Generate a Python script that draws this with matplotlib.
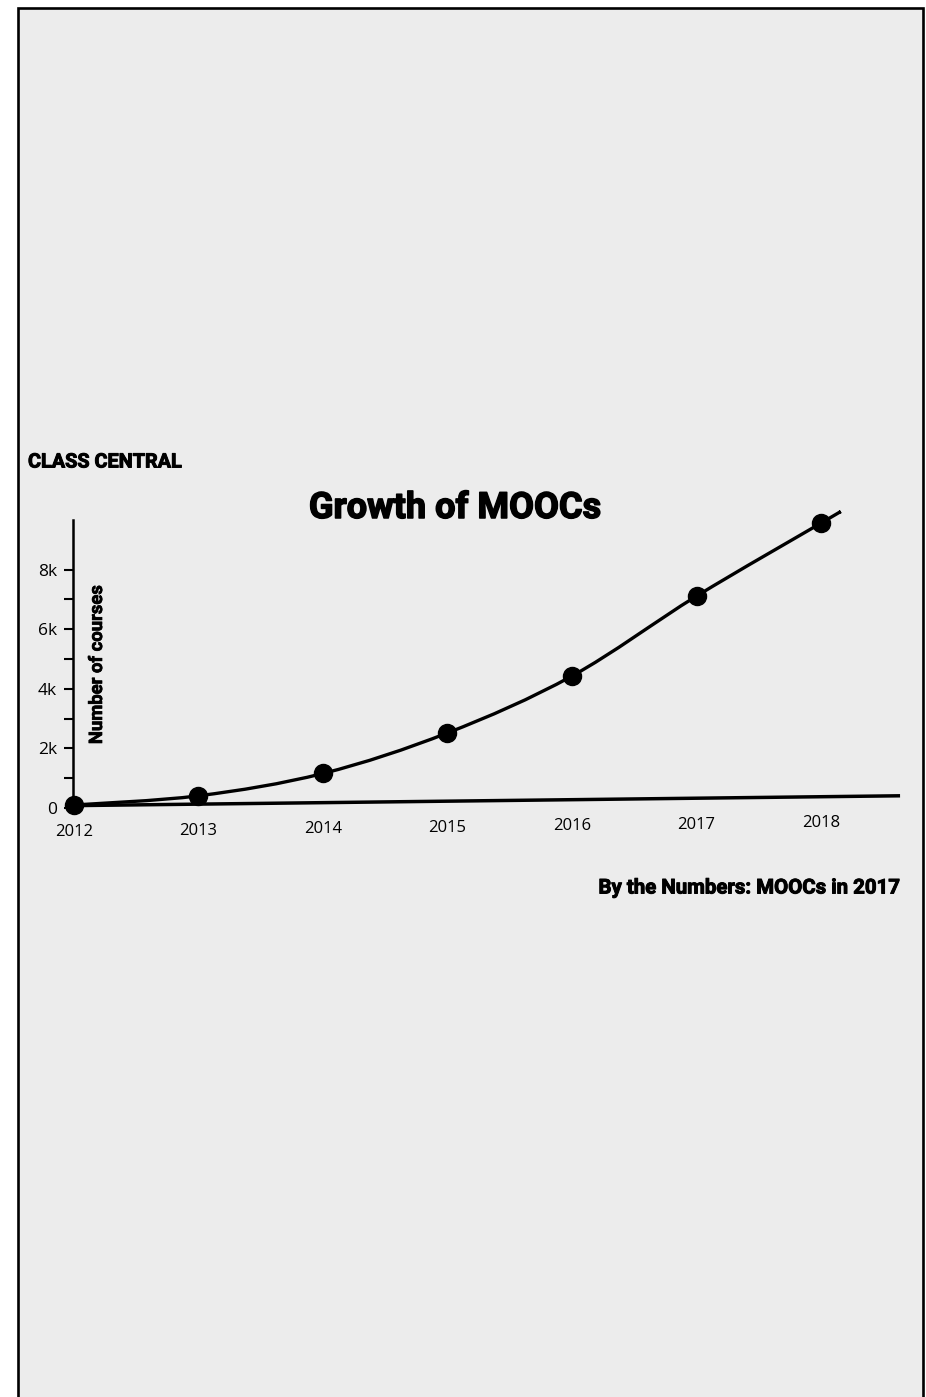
import numpy as np
import matplotlib
matplotlib.use("Agg")
import matplotlib.pyplot as plt
import matplotlib.patheffects as pe
from matplotlib.patches import Rectangle, PathPatch
from matplotlib.path import Path

# ---- data ----
years = [2012, 2013, 2014, 2015, 2016, 2017, 2018]
courses_k = [0.1, 0.41, 1.16, 2.52, 4.43, 7.11, 9.56]
ytick_major = [0, 2, 4, 6, 8]
ytick_labels = ["0", "2k", "4k", "6k", "8k"]
ytick_minor = [1, 3, 5, 7]
baseline_years = [2012, 2018.635]
baseline_vals = [0.08, 0.41]
title = "Growth of MOOCs"
brand = "CLASS CENTRAL"
subtitle = "By the Numbers: MOOCs in 2017"
ylabel = "Number of courses"

W, H = 926, 1397
fig = plt.figure(figsize=(W / 100, H / 100), dpi=100)
fig.patch.set_facecolor("white")

# grey panel with border
panel = Rectangle((18 / W, -0.05), (922.5 - 18) / W, 1.05 - 8 / H,
                  transform=fig.transFigure, facecolor="#ececec",
                  edgecolor="black", linewidth=1.9, zorder=-5)
fig.patches.append(panel)

# axes over the whole figure, mapping years/values to pixels
px_per_year = 124.5
px_per_k = 29.8
x0 = 2012 - 74 / px_per_year
x1 = x0 + W / px_per_year
zero_from_bottom = H - 808
y0 = -zero_from_bottom / px_per_k
y1 = (H - zero_from_bottom) / px_per_k

ax = fig.add_axes([0, 0, 1, 1])
ax.set_zorder(5)
ax.set_facecolor("none")
ax.set_xlim(x0, x1)
ax.set_ylim(y0, y1)
for s in ["top", "right", "bottom"]:
    ax.spines[s].set_visible(False)
ax.spines["left"].set_position(("data", 2012 - 1 / px_per_year))
ax.spines["left"].set_bounds(0.1, 9.66)
ax.spines["left"].set_linewidth(1.8)
ax.set_xticks([])
ax.set_yticks(ytick_major)
ax.set_yticklabels(ytick_labels)
ax.set_yticks(ytick_minor, minor=True)
ax.tick_params(axis="y", which="both", direction="out", length=6.5,
               width=1.5, pad=5, labelsize=12.5)
for lab in ax.get_yticklabels():
    lab.set_fontfamily("Open Sans")

# slanted baseline
ax.plot(baseline_years, baseline_vals, color="black", lw=2.5,
        solid_capstyle="butt", zorder=3)

# year labels under the baseline
for yr in years:
    bv = np.interp(yr, baseline_years, baseline_vals)
    ax.annotate(str(yr), (yr, bv), xytext=(0, -19), textcoords="offset points",
                ha="center", va="center", fontsize=12, family="Open Sans")

# smooth curve (Catmull-Rom -> cubic Bezier)
pts = np.column_stack([years, courses_k]).astype(float)
tail = pts[-1] + (pts[-1] - pts[-2]) * 0.15
knots = np.vstack([pts, tail])
ext = np.vstack([knots[0], knots, knots[-1]])
verts = [tuple(knots[0])]
codes = [Path.MOVETO]
for i in range(1, len(ext) - 2):
    p0, p1, p2, p3 = ext[i - 1], ext[i], ext[i + 1], ext[i + 2]
    c1 = p1 + (p2 - p0) / 6.0
    c2 = p2 - (p3 - p1) / 6.0
    verts += [tuple(c1), tuple(c2), tuple(p2)]
    codes += [Path.CURVE4] * 3
ax.add_patch(PathPatch(Path(verts, codes), facecolor="none",
                       edgecolor="black", lw=2.4, zorder=4))
ax.plot(years, courses_k, "o", color="black", markersize=13, zorder=5)

# texts
def fx(px):
    return px / W

def fy(py):
    return 1 - py / H

def heavy(w):
    return [pe.withStroke(linewidth=w, foreground="black")]

fig.text(fx(28), fy(462), brand, ha="left", va="center", fontsize=14.3,
         family="Roboto", weight="bold", path_effects=heavy(0.7))
fig.text(fx(455), fy(508), title, ha="center", va="center", fontsize=26,
         family="Roboto", weight="bold", path_effects=heavy(1.1))
fig.text(fx(900), fy(888), subtitle, ha="right", va="center", fontsize=14.7,
         family="Roboto", weight="bold", path_effects=heavy(0.7))
fig.text(fx(97), fy(664), ylabel, ha="center", va="center", rotation=90,
         fontsize=13.3, family="Roboto", weight="bold", path_effects=heavy(0.5))

fig.savefig("out.png", dpi=100, facecolor=fig.get_facecolor())
